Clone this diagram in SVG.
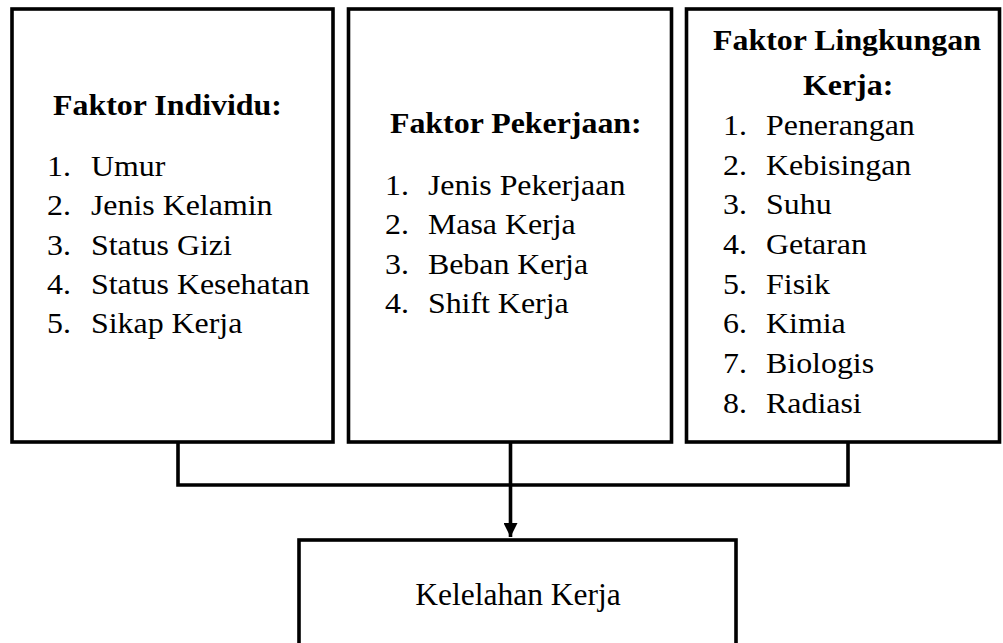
<svg xmlns="http://www.w3.org/2000/svg" width="1003" height="643" viewBox="0 0 1003 643">
<style>
.box{fill:#fff;stroke:#000;stroke-width:3.6}
.ln{fill:none;stroke:#000;stroke-width:3.6}
.h{font-family:"Liberation Serif","Times New Roman",serif;font-weight:bold;font-size:29px;fill:#000}
.t{font-family:"Liberation Serif","Times New Roman",serif;font-size:29px;fill:#000}
.b{font-family:"Liberation Serif","Times New Roman",serif;font-size:31.5px;fill:#000}
</style>
<defs>
<marker id="arr" viewBox="0 0 14 14" refX="14" refY="7" markerWidth="14" markerHeight="14" markerUnits="userSpaceOnUse" orient="auto">
<path d="M0,0 L14,7 L0,14 Z" fill="#000"/>
</marker>
</defs>
<g id="connectors">
<polyline class="ln" points="178,442 178,485 848,485 848,442"/>
<line class="ln" x1="510.5" y1="442" x2="510.5" y2="537" marker-end="url(#arr)"/>
</g>
<g id="faktor-individu">
<rect class="box" x="12" y="9" width="321" height="433"/>
<g transform="scale(1.1,1)">
<text class="h" x="48.2" y="115">Faktor Individu:</text>
<text class="t" x="42.7" y="176">1.</text><text class="t" x="82.7" y="176">Umur</text>
<text class="t" x="42.7" y="215.3">2.</text><text class="t" x="82.7" y="215.3">Jenis Kelamin</text>
<text class="t" x="42.7" y="254.6">3.</text><text class="t" x="82.7" y="254.6">Status Gizi</text>
<text class="t" x="42.7" y="293.9">4.</text><text class="t" x="82.7" y="293.9">Status Kesehatan</text>
<text class="t" x="42.7" y="333.2">5.</text><text class="t" x="82.7" y="333.2">Sikap Kerja</text>
</g>
</g>
<g id="faktor-pekerjaan">
<rect class="box" x="348.5" y="9" width="323" height="433"/>
<g transform="scale(1.1,1)">
<text class="h" x="354.5" y="133">Faktor Pekerjaan:</text>
<text class="t" x="350" y="195">1.</text><text class="t" x="389" y="195">Jenis Pekerjaan</text>
<text class="t" x="350" y="234.3">2.</text><text class="t" x="389" y="234.3">Masa Kerja</text>
<text class="t" x="350" y="273.6">3.</text><text class="t" x="389" y="273.6">Beban Kerja</text>
<text class="t" x="350" y="312.9">4.</text><text class="t" x="389" y="312.9">Shift Kerja</text>
</g>
</g>
<g id="faktor-lingkungan">
<rect class="box" x="686.5" y="9" width="313" height="433"/>
<g transform="scale(1.1,1)">
<text class="h" x="648.2" y="50">Faktor Lingkungan</text>
<text class="h" x="730" y="95">Kerja:</text>
<text class="t" x="657.3" y="135">1.</text><text class="t" x="696.4" y="135">Penerangan</text>
<text class="t" x="657.3" y="174.7">2.</text><text class="t" x="696.4" y="174.7">Kebisingan</text>
<text class="t" x="657.3" y="214.4">3.</text><text class="t" x="696.4" y="214.4">Suhu</text>
<text class="t" x="657.3" y="254.1">4.</text><text class="t" x="696.4" y="254.1">Getaran</text>
<text class="t" x="657.3" y="293.8">5.</text><text class="t" x="696.4" y="293.8">Fisik</text>
<text class="t" x="657.3" y="333.5">6.</text><text class="t" x="696.4" y="333.5">Kimia</text>
<text class="t" x="657.3" y="373.2">7.</text><text class="t" x="696.4" y="373.2">Biologis</text>
<text class="t" x="657.3" y="412.9">8.</text><text class="t" x="696.4" y="412.9">Radiasi</text>
</g>
</g>
<g id="kelelahan-kerja">
<rect class="box" x="299" y="540" width="437" height="120"/>
<text class="b" x="518" y="605" text-anchor="middle">Kelelahan Kerja</text>
</g>
</svg>
